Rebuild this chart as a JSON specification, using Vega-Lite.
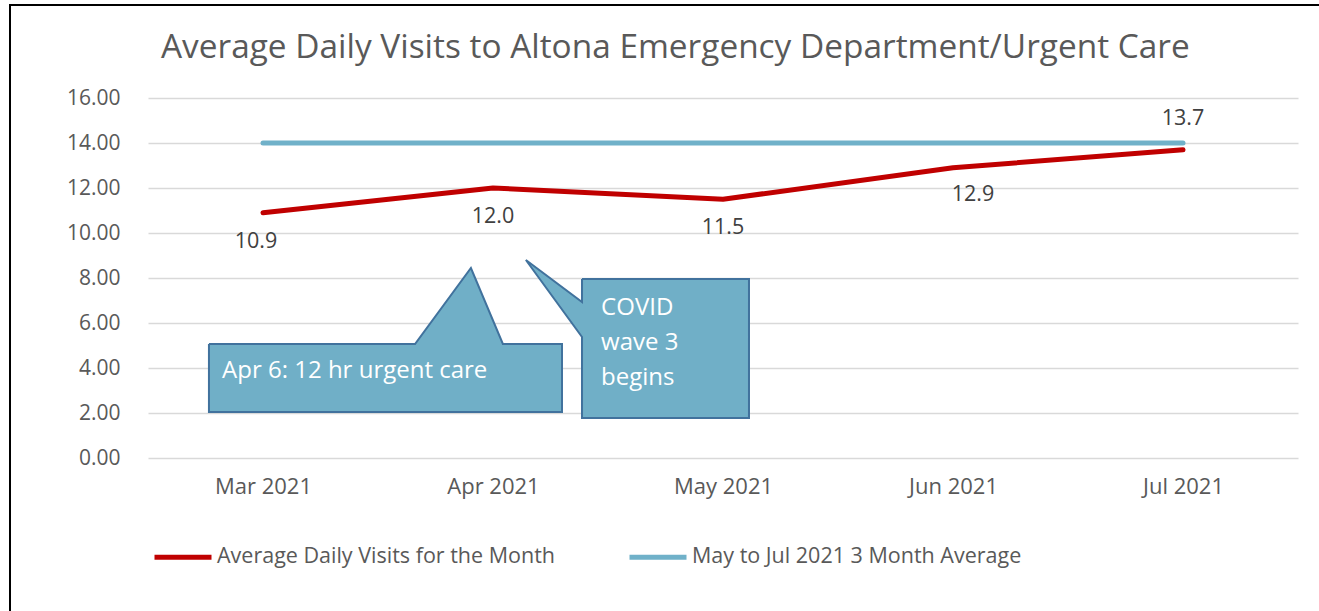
{
  "$schema": "https://vega.github.io/schema/vega-lite/v6.json",
  "autosize": "none",
  "width": 1150,
  "height": 360,
  "padding": {"left": 148, "top": 98, "right": 21, "bottom": 153},
  "background": "white",
  "title": {
    "text": "Average Daily Visits to Altona Emergency Department/Urgent Care",
    "anchor": "start",
    "frame": "group",
    "dx": 13,
    "font": "Open Sans",
    "fontSize": 33.4,
    "fontWeight": "normal",
    "color": "#595959",
    "baseline": "alphabetic",
    "offset": -87
  },
  "config": {
    "view": {"stroke": null},
    "font": "Open Sans"
  },
  "datasets": {
    "visits": [
      {"month": 3, "series": "Average Daily Visits for the Month", "value": 10.9},
      {"month": 4, "series": "Average Daily Visits for the Month", "value": 12.0},
      {"month": 5, "series": "Average Daily Visits for the Month", "value": 11.5},
      {"month": 6, "series": "Average Daily Visits for the Month", "value": 12.9},
      {"month": 7, "series": "Average Daily Visits for the Month", "value": 13.7},
      {"month": 3, "series": "May to Jul 2021 3 Month Average", "value": 14.0},
      {"month": 4, "series": "May to Jul 2021 3 Month Average", "value": 14.0},
      {"month": 5, "series": "May to Jul 2021 3 Month Average", "value": 14.0},
      {"month": 6, "series": "May to Jul 2021 3 Month Average", "value": 14.0},
      {"month": 7, "series": "May to Jul 2021 3 Month Average", "value": 14.0}
    ],
    "callouts": [
      {"callout": "a", "k": 0, "month": 2.765, "value": 5.067},
      {"callout": "a", "k": 1, "month": 3.661, "value": 5.067},
      {"callout": "a", "k": 2, "month": 3.904, "value": 8.444},
      {"callout": "a", "k": 3, "month": 4.043, "value": 5.067},
      {"callout": "a", "k": 4, "month": 4.3, "value": 5.067},
      {"callout": "a", "k": 5, "month": 4.3, "value": 2.044},
      {"callout": "a", "k": 6, "month": 2.765, "value": 2.044},
      {"callout": "a", "k": 7, "month": 2.765, "value": 5.067},
      {"callout": "b", "k": 0, "month": 4.387, "value": 7.956},
      {"callout": "b", "k": 1, "month": 5.113, "value": 7.956},
      {"callout": "b", "k": 2, "month": 5.113, "value": 1.778},
      {"callout": "b", "k": 3, "month": 4.387, "value": 1.778},
      {"callout": "b", "k": 4, "month": 4.387, "value": 5.378},
      {"callout": "b", "k": 5, "month": 4.143, "value": 8.8},
      {"callout": "b", "k": 6, "month": 4.387, "value": 6.933},
      {"callout": "b", "k": 7, "month": 4.387, "value": 7.956}
    ],
    "notes": [
      {"month": 2.822, "value": 3.87, "text": "Apr 6: 12 hr urgent care"},
      {"month": 4.47, "value": 6.67, "text": "COVID\nwave 3\nbegins"}
    ],
    "frame": [
      {"x1": 1.9, "x2": 7.8, "y1": 20.13, "y2": -8}
    ]
  },
  "layer": [
    {
      "data": {"name": "frame"},
      "mark": {"type": "rect", "fill": null, "stroke": "#000000", "strokeWidth": 2, "clip": false},
      "encoding": {
        "x": {"field": "x1", "type": "quantitative", "scale": {"domain": [2.5, 7.5]}},
        "x2": {"field": "x2"},
        "y": {"field": "y1", "type": "quantitative"},
        "y2": {"field": "y2"}
      }
    },
    {
      "data": {"name": "visits"},
      "mark": {"type": "line", "strokeWidth": 5, "strokeCap": "round", "strokeJoin": "round"},
      "encoding": {
        "x": {
          "field": "month",
          "type": "quantitative",
          "scale": {"domain": [2.5, 7.5], "nice": false, "zero": false},
          "axis": {
            "title": null,
            "values": [3, 4, 5, 6, 7],
            "labelExpr": "['','','','Mar','Apr','May','Jun','Jul'][datum.value] + ' 2021'",
            "grid": false,
            "domain": false,
            "ticks": false,
            "labelFont": "Open Sans",
            "labelFontSize": 22,
            "labelColor": "#595959",
            "labelPadding": 18
          }
        },
        "y": {
          "field": "value",
          "type": "quantitative",
          "scale": {"domain": [0, 16], "nice": false},
          "axis": {
            "title": null,
            "values": [0, 2, 4, 6, 8, 10, 12, 14, 16],
            "format": ".2f",
            "grid": true,
            "gridColor": "#d9d9d9",
            "gridWidth": 1.5,
            "domain": false,
            "ticks": false,
            "labelFont": "Open Sans",
            "labelFontSize": 21,
            "labelColor": "#595959",
            "labelPadding": 28
          }
        },
        "color": {
          "field": "series",
          "type": "nominal",
          "scale": {
            "domain": ["Average Daily Visits for the Month", "May to Jul 2021 3 Month Average"],
            "range": ["#c00000", "#70b1c9"]
          },
          "legend": {
            "title": null,
            "orient": "none",
            "direction": "horizontal",
            "legendX": 4,
            "legendY": 428,
            "symbolType": "stroke",
            "symbolSize": 3249,
            "symbolStrokeWidth": 5,
            "labelFont": "Open Sans",
            "labelFontSize": 21.5,
            "labelColor": "#595959",
            "labelOffset": 3,
            "labelLimit": 500,
            "columnPadding": 64
          }
        },
        "order": {"field": "month", "type": "quantitative"}
      }
    },
    {
      "data": {"name": "visits"},
      "transform": [{"filter": "datum.series === 'Average Daily Visits for the Month' && datum.month == 3"}],
      "mark": {"type": "text", "dy": 29, "dx": -7, "font": "Open Sans", "fontSize": 21.5, "color": "#404040"},
      "encoding": {
        "x": {"field": "month", "type": "quantitative"},
        "y": {"field": "value", "type": "quantitative"},
        "text": {"field": "value", "type": "quantitative", "format": ".1f"}
      }
    },
    {
      "data": {"name": "visits"},
      "transform": [{"filter": "datum.series === 'Average Daily Visits for the Month' && (datum.month == 4 || datum.month == 5)"}],
      "mark": {"type": "text", "dy": 29, "font": "Open Sans", "fontSize": 21.5, "color": "#404040"},
      "encoding": {
        "x": {"field": "month", "type": "quantitative"},
        "y": {"field": "value", "type": "quantitative"},
        "text": {"field": "value", "type": "quantitative", "format": ".1f"}
      }
    },
    {
      "data": {"name": "visits"},
      "transform": [{"filter": "datum.series === 'Average Daily Visits for the Month' && datum.month == 6"}],
      "mark": {"type": "text", "dy": 27, "dx": 20, "font": "Open Sans", "fontSize": 21.5, "color": "#404040"},
      "encoding": {
        "x": {"field": "month", "type": "quantitative"},
        "y": {"field": "value", "type": "quantitative"},
        "text": {"field": "value", "type": "quantitative", "format": ".1f"}
      }
    },
    {
      "data": {"name": "visits"},
      "transform": [{"filter": "datum.series === 'Average Daily Visits for the Month' && datum.month == 7"}],
      "mark": {"type": "text", "dy": -31, "font": "Open Sans", "fontSize": 21.5, "color": "#404040"},
      "encoding": {
        "x": {"field": "month", "type": "quantitative"},
        "y": {"field": "value", "type": "quantitative"},
        "text": {"field": "value", "type": "quantitative", "format": ".1f"}
      }
    },
    {
      "data": {"name": "callouts"},
      "mark": {"type": "line", "fill": "#70afc7", "stroke": "#41729d", "strokeWidth": 2, "strokeJoin": "miter"},
      "encoding": {
        "x": {"field": "month", "type": "quantitative"},
        "y": {"field": "value", "type": "quantitative"},
        "detail": {"field": "callout", "type": "nominal"},
        "order": {"field": "k", "type": "quantitative"}
      }
    },
    {
      "data": {"name": "notes"},
      "mark": {"type": "text", "align": "left", "baseline": "middle", "font": "Open Sans", "fontSize": 24, "color": "#ffffff", "lineBreak": "\n", "lineHeight": 35},
      "encoding": {
        "x": {"field": "month", "type": "quantitative"},
        "y": {"field": "value", "type": "quantitative"},
        "text": {"field": "text", "type": "nominal"}
      }
    }
  ]
}
